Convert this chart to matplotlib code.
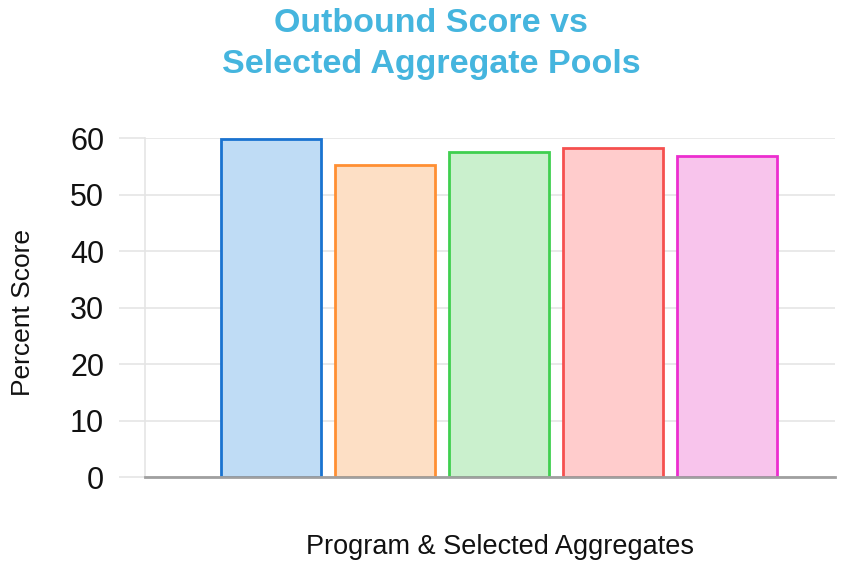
import matplotlib
matplotlib.use("Agg")
import matplotlib.pyplot as plt

CATEGORIES = ["Program", "Pool 1", "Pool 2", "Pool 3", "Pool 4"]
SCORES = [59.8, 55.2, 57.6, 58.3, 56.9]
FILL_COLORS = ["#bfdcf5", "#fddfc5", "#caf0cd", "#ffcccc", "#f8c4ec"]
EDGE_COLORS = ["#1a73d0", "#ff8f33", "#3fcf4f", "#f5504f", "#ec2ecf"]
Y_TICKS = [0, 10, 20, 30, 40, 50, 60]
TITLE_LINES = ["Outbound Score vs", "Selected Aggregate Pools"]

plt.rcParams["font.family"] = ["Liberation Sans", "DejaVu Sans"]

fig = plt.figure(figsize=(8.49, 5.64), dpi=100)
ax = fig.add_axes([0.171, 0.154, 0.812, 0.601])

x = list(range(len(CATEGORIES)))
ax.bar(x, SCORES, width=0.88, color=FILL_COLORS, edgecolor=EDGE_COLORS,
       linewidth=2, zorder=3)

ax.set_xlim(-1.105, 4.947)
ax.set_ylim(0, 60)
ax.set_yticks(Y_TICKS)
ax.set_xticks([])
ax.tick_params(axis="y", length=19, width=1.2, color="#e5e5e5", labelsize=22,
               pad=10.5, labelcolor="#111111")
ax.grid(axis="y", color="#e5e5e5", linewidth=1.2, zorder=0)

for side in ["top", "right"]:
    ax.spines[side].set_visible(False)
ax.spines["left"].set_color("#e5e5e5")
ax.spines["left"].set_linewidth(1.2)
ax.spines["bottom"].set_color("#a0a0a0")
ax.spines["bottom"].set_linewidth(2)
ax.spines["bottom"].set_zorder(4)

ax.set_ylabel("Percent Score", fontsize=19, color="#111111", va="center")
ax.yaxis.set_label_coords(-0.177, 0.487)
ax.set_xlabel("Program & Selected Aggregates", fontsize=19.5, color="#111111",
              va="center")
ax.xaxis.set_label_coords(0.514, -0.206)

for line, ypos in zip(TITLE_LINES, [0.958, 0.885]):
    fig.text(0.508, ypos, line, ha="center", va="center",
             fontsize=24.5, fontweight="bold", color="#45b5de")

plt.savefig("out.png", dpi=100)
plt.close()
